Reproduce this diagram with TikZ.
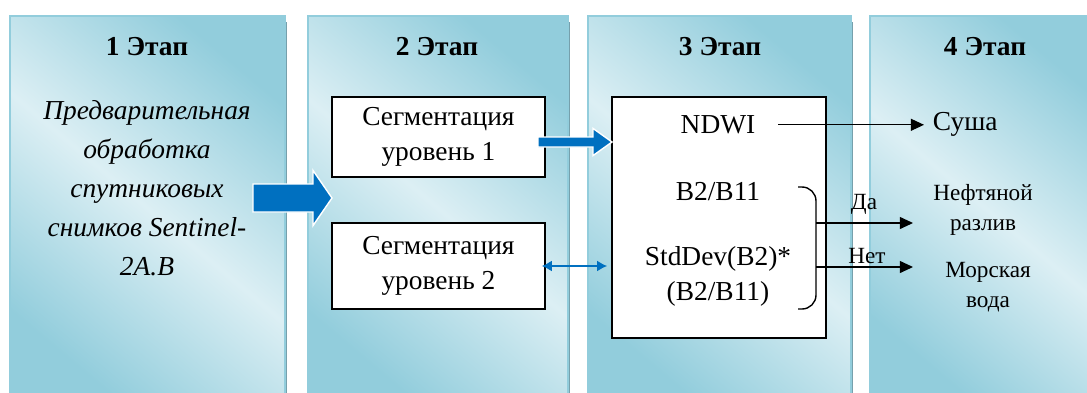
\documentclass[tikz,border=0pt]{standalone}
\usepackage{fontspec}
\setmainfont{Liberation Serif}
\usetikzlibrary{arrows.meta,shadows}

\definecolor{aquadark}{RGB}{146,205,220}
\definecolor{aqualight}{RGB}{220,239,244}
\definecolor{aquashadow}{RGB}{118,160,172}
\definecolor{stageblue}{RGB}{0,112,192}

\begin{document}
\begin{tikzpicture}[
  panel/.style={draw=aquadark, line width=1pt, top color=aquadark, bottom color=aquadark,
    middle color=aqualight, shading angle=-40,
    general shadow={fill=aquashadow, shadow xshift=1.5pt, shadow yshift=-4pt}},
  title/.style={font=\fontsize{19.5}{24}\selectfont\bfseries},
  txt/.style={font=\fontsize{19.5}{25}\selectfont, align=center},
  small/.style={font=\fontsize{16.5}{21}\selectfont, align=center},
  segbox/.style={draw, line width=1.2pt, fill=white, align=center, minimum width=5.325cm,
    font=\fontsize{19.5}{25}\selectfont},
  blockarrow/.style={fill=stageblue, draw=white, line width=1pt, line join=miter},
  result/.style={-{Triangle[length=0.33cm,width=0.3cm]}, line width=0.9pt},
]
\useasboundingbox (0,0) rectangle (27.175,9.8);

% stage panels
\path[panel] (0.25,-0.2) rectangle (7.125,9.4);
\path[panel] (7.7,-0.2) rectangle (14.2,9.4);
\path[panel] (14.7,-0.2) rectangle (21.275,9.4);
\path[panel] (21.75,-0.2) rectangle (27.5,9.4);

\node[title] (t1) at (3.675,8.625) {1 Этап};
\node[title] (t2) at (10.925,8.625) {2 Этап};
\node[title] (t3) at (18,8.625) {3 Этап};
\node[title] (t4) at (24.625,8.625) {4 Этап};

% stage 1
\node[txt, font=\fontsize{19.5}{27.7}\selectfont\itshape] (prep) at (3.675,5.1)
  {Предварительная\\обработка\\спутниковых\\снимков Sentinel-\\2A.B};
\draw[blockarrow] (6.325,4.5) -- (7.825,4.5) -- (7.825,4.16) -- (8.3,4.85)
  -- (7.825,5.54) -- (7.825,5.2) -- (6.325,5.2) -- cycle;

% stage 2
\node[segbox, minimum height=2cm] (seg1) at (10.96,6.375) {Сегментация\\уровень 1};
\node[segbox, minimum height=2.15cm] (seg2) at (10.96,3.15) {Сегментация\\уровень 2};

% stage 3
\node[draw, line width=1.2pt, fill=white, minimum width=5.35cm, minimum height=6.025cm]
  (main) at (17.975,4.3625) {};
\node[txt] (ndwi) at (17.95,6.68) {NDWI};
\node[txt] (ratio) at (17.95,5.0) {B2/B11};
\node[txt] (stddev) at (17.95,2.9) {StdDev(B2)*\\(B2/B11)};
\draw[line width=1pt, rounded corners=0.35cm] (19.95,5.125) -| (20.4,3.6) |- (19.95,2.075);
\coordinate (yes) at (20.4,4.225);
\coordinate (no) at (20.4,3.125);

\draw[blockarrow] (13.45,6.125) -- (14.825,6.125) -- (14.825,5.91) -- (15.3,6.25)
  -- (14.825,6.59) -- (14.825,6.375) -- (13.45,6.375) -- cycle;
\draw[stageblue, line width=1pt, {Latex[length=0.25cm,width=0.27cm]}-{Latex[length=0.25cm,width=0.27cm]}]
  ([xshift=-0.1cm]seg2.east) -- ([xshift=-0.1cm]seg2.east -| main.west);

% stage 4
\node[txt, anchor=west] (land) at (23.2,6.68) {Суша};
\node[small] (oil) at (24.575,4.55) {Нефтяной\\разлив};
\node[small] (sea) at (24.7,2.62) {Морская\\вода};
\node[small] (yeslabel) at (21.6,4.7) {Да};
\node[small] (nolabel) at (21.675,3.4) {Нет};

\draw[result] ([xshift=0.45cm]ndwi.east) -- ([xshift=-0.1cm]land.west);
\draw[result] (yes) -- (yes -| 22.825,0);
\draw[result] (no) -- (no -| 22.825,0);

\end{tikzpicture}
\end{document}
